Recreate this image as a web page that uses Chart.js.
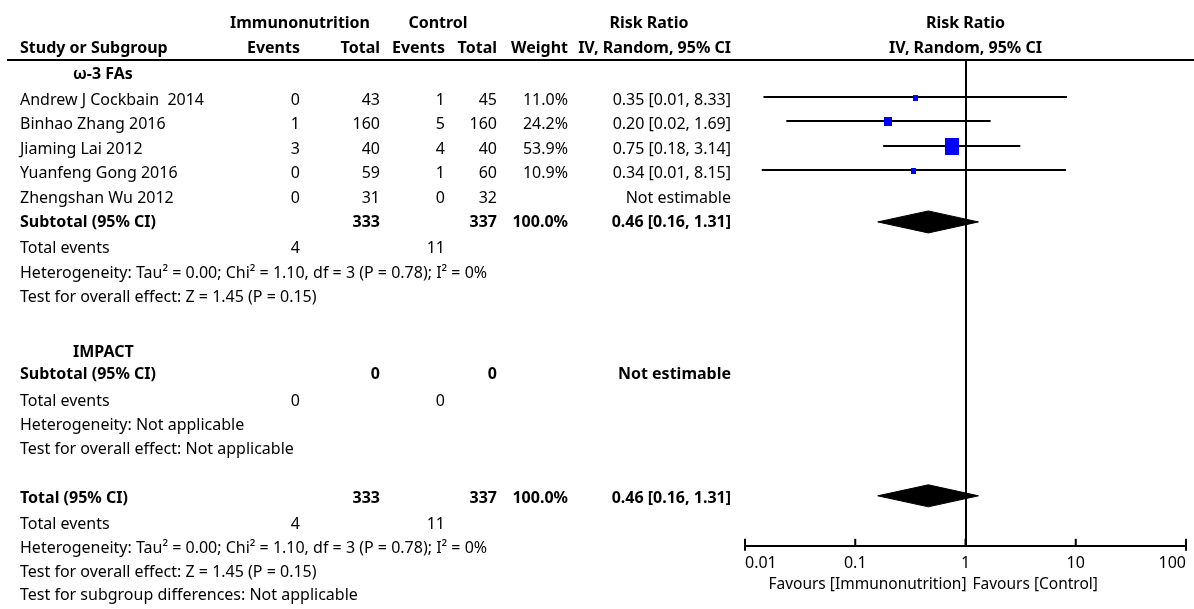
<!DOCTYPE html>
<html>
<head>
<meta charset="utf-8">
<script src="https://cdn.jsdelivr.net/npm/chart.js@4.4.1/dist/chart.umd.min.js"></script>
<style>
    body { margin: 0; background: #fff; }
    #wrap { position: relative; width: 1194px; height: 609px; overflow: hidden; font-family: 'Noto Sans', sans-serif; font-size: 16px; color: #000; }
    #forest { position: absolute; left: 0; top: 0; }
    .t { position: absolute; white-space: pre; line-height: 19px; }
    .b { font-weight: 700; }
    .fav { font-size: 15.5px; }
    .rule { position: absolute; left: 7px; top: 59px; width: 1187px; height: 2px; background: #000; }
</style>
</head>
<body>
<div id="wrap">
    <canvas id="forest" width="1194" height="609"></canvas>
    <div class="rule"></div>
</div>
<script>
// Forest plot - risk ratio, IV random

// Study data
const studies = ['Andrew J Cockbain  2014', 'Binhao Zhang 2016', 'Jiaming Lai 2012', 'Yuanfeng Gong 2016', 'Zhengshan Wu 2012'];
const immEvents = [0, 1, 3, 0, 0];
const immTotal = [43, 160, 40, 59, 31];
const ctlEvents = [1, 5, 4, 1, 0];
const ctlTotal = [45, 160, 40, 60, 32];
const weights = [11.0, 24.2, 53.9, 10.9, null];
const riskRatio = [0.35, 0.20, 0.75, 0.34, null];
const ciLower = [0.0147, 0.0237, 0.179, 0.0142, null];
const ciUpper = [8.33, 1.69, 3.14, 8.15, null];

// Pooled results
const pooledRR = 0.46;
const pooledLower = 0.16;
const pooledUpper = 1.31;
const pooledImmTotal = 333;
const pooledCtlTotal = 337;
const pooledImmEvents = 4;
const pooledCtlEvents = 11;
const impactImmTotal = 0;
const impactCtlTotal = 0;

// Axis
const axisTicks = [0.01, 0.1, 1, 10, 100];
const axisLabels = ['0.01', '0.1', '1', '10', '100'];

const hetText = 'Heterogeneity: Tau\u00b2 = 0.00; Chi\u00b2 = 1.10, df = 3 (P = 0.78); I\u00b2 = 0%';
const effectText = 'Test for overall effect: Z = 1.45 (P = 0.15)';

// Layout (page pixels, text centres)
const studyRowY = [99, 123, 148, 172, 197];
const subtotalY = 221;
const totalY = 497;
const diamondHalf = 11;

// column right edges
const COL = { left: 20, indent: 73, immEv: 300, immTot: 380, ctlEv: 445, ctlTot: 497, weight: 568, rr: 731 };

const wrap = document.getElementById('wrap');

function put(text, x, y, align, bold, cls) {
    const el = document.createElement('div');
    el.className = 't' + (bold ? ' b' : '') + (cls ? ' ' + cls : '');
    el.textContent = text;
    el.style.left = x + 'px';
    el.style.top = y + 'px';
    const tx = align === 'right' ? '-100%' : align === 'center' ? '-50%' : '0';
    el.style.transform = `translate(${tx}, -50%)`;
    wrap.appendChild(el);
}

const ciText = (r, l, u) => `${r.toFixed(2)} [${l.toFixed(2)}, ${u.toFixed(2)}]`;

// header
put('Immunonutrition', 300, 22, 'center', true);
put('Control', 438, 22, 'center', true);
put('Risk Ratio', 649, 22, 'center', true);
put('Study or Subgroup', COL.left, 47, 'left', true);
put('Events', COL.immEv, 47, 'right', true);
put('Total', COL.immTot, 47, 'right', true);
put('Events', COL.ctlEv, 47, 'right', true);
put('Total', COL.ctlTot, 47, 'right', true);
put('Weight', COL.weight, 47, 'right', true);
put('IV, Random, 95% CI', COL.rr, 47, 'right', true);

// subgroup 1
put('\u03c9-3 FAs', COL.indent, 73, 'left', true);
studies.forEach((name, i) => {
    const y = studyRowY[i];
    put(name, COL.left, y, 'left');
    put(String(immEvents[i]), COL.immEv, y, 'right');
    put(String(immTotal[i]), COL.immTot, y, 'right');
    put(String(ctlEvents[i]), COL.ctlEv, y, 'right');
    put(String(ctlTotal[i]), COL.ctlTot, y, 'right');
    if (weights[i] !== null) {
        put(weights[i].toFixed(1) + '%', COL.weight, y, 'right');
        put(ciText(riskRatio[i], ciLower[i], ciUpper[i]), COL.rr, y, 'right');
    } else {
        put('Not estimable', COL.rr, y, 'right');
    }
});
put('Subtotal (95% CI)', COL.left, subtotalY, 'left', true);
put(String(pooledImmTotal), COL.immTot, subtotalY, 'right', true);
put(String(pooledCtlTotal), COL.ctlTot, subtotalY, 'right', true);
put('100.0%', COL.weight, subtotalY, 'right', true);
put(ciText(pooledRR, pooledLower, pooledUpper), COL.rr, subtotalY, 'right', true);
put('Total events', COL.left, 247, 'left');
put(String(pooledImmEvents), COL.immEv, 247, 'right');
put(String(pooledCtlEvents), COL.ctlEv, 247, 'right');
put(hetText, COL.left, 272, 'left');
put(effectText, COL.left, 296, 'left');

// subgroup 2
put('IMPACT', COL.indent, 351, 'left', true);
put('Subtotal (95% CI)', COL.left, 373, 'left', true);
put(String(impactImmTotal), COL.immTot, 373, 'right', true);
put(String(impactCtlTotal), COL.ctlTot, 373, 'right', true);
put('Not estimable', COL.rr, 373, 'right', true);
put('Total events', COL.left, 400, 'left');
put('0', COL.immEv, 400, 'right');
put('0', COL.ctlEv, 400, 'right');
put('Heterogeneity: Not applicable', COL.left, 424, 'left');
put('Test for overall effect: Not applicable', COL.left, 448, 'left');

// overall
put('Total (95% CI)', COL.left, totalY, 'left', true);
put(String(pooledImmTotal), COL.immTot, totalY, 'right', true);
put(String(pooledCtlTotal), COL.ctlTot, totalY, 'right', true);
put('100.0%', COL.weight, totalY, 'right', true);
put(ciText(pooledRR, pooledLower, pooledUpper), COL.rr, totalY, 'right', true);
put('Total events', COL.left, 523, 'left');
put(String(pooledImmEvents), COL.immEv, 523, 'right');
put(String(pooledCtlEvents), COL.ctlEv, 523, 'right');
put(hetText, COL.left, 547, 'left');
put(effectText, COL.left, 571, 'left');
put('Test for subgroup differences: Not applicable', COL.left, 594, 'left');

// square markers sized by weight
function squareFor(w) {
    const side = 2.8 + 0.2 * w;
    const c = document.createElement('canvas');
    c.width = Math.round(side);
    c.height = Math.round(side * 1.22);
    const g = c.getContext('2d');
    g.fillStyle = '#0000ff';
    g.fillRect(0, 0, c.width, c.height);
    return c;
}

function diamond(y) {
    return [
        { x: pooledLower, y: y },
        { x: pooledRR, y: y - diamondHalf },
        { x: pooledUpper, y: y },
        { x: pooledRR, y: y + diamondHalf },
        { x: pooledLower, y: y }
    ];
}

const markY = studyRowY.map(y => y - 2);
const estimable = riskRatio.map((r, i) => i).filter(i => riskRatio[i] !== null);

const datasets = [];
datasets.push({
    data: estimable.map(i => ({ x: riskRatio[i], y: markY[i] + 1 })),
    pointStyle: estimable.map(i => squareFor(weights[i])),
    pointRadius: 6,
    order: 0
});
estimable.forEach(i => {
    datasets.push({
        data: [{ x: ciLower[i], y: markY[i] }, { x: ciUpper[i], y: markY[i] }],
        showLine: true,
        borderColor: '#000',
        borderWidth: 2,
        pointRadius: 0,
        order: 1
    });
});
[subtotalY + 1, totalY - 1].forEach(y => {
    datasets.push({
        data: diamond(y),
        showLine: true,
        fill: 'shape',
        backgroundColor: '#000',
        borderColor: '#000',
        borderWidth: 1,
        pointRadius: 0,
        tension: 0,
        order: 1
    });
});

// small upward tick marks on the axis
const tickMarks = {
    id: 'tickMarks',
    afterDraw(chart) {
        const x = chart.scales.x;
        const c = chart.ctx;
        const bottom = chart.chartArea.bottom;
        c.save();
        c.strokeStyle = '#000';
        c.lineWidth = 2;
        x.ticks.forEach((t, i) => {
            const px = x.getPixelForValue(t.value);
            const end = (i === 0 || i === x.ticks.length - 1);
            c.beginPath();
            c.moveTo(px, bottom - 7);
            c.lineTo(px, bottom + (end ? 5 : 0));
            c.stroke();
        });
        c.restore();
    }
};

const chart = new Chart(document.getElementById('forest'), {
    type: 'scatter',
    data: { datasets },
    options: {
        responsive: false,
        animation: false,
        layout: { padding: { left: 745, right: 1, top: 60, bottom: 28 } },
        plugins: { legend: { display: false }, tooltip: { enabled: false } },
        scales: {
            x: {
                type: 'logarithmic',
                min: 0.01,
                max: 100,
                afterBuildTicks: scale => { scale.ticks = axisTicks.map(v => ({ value: v })); },
                ticks: {
                    align: 'inner',
                    autoSkip: false,
                    maxRotation: 0,
                    padding: 8,
                    color: '#000',
                    font: { family: 'Noto Sans', size: 16 },
                    callback: (v, i) => axisLabels[i]
                },
                grid: {
                    drawTicks: false,
                    lineWidth: 2,
                    color: ctx => (ctx.tick && ctx.tick.value === 1) ? '#000' : 'rgba(0,0,0,0)'
                },
                border: { display: true, color: '#000', width: 2 }
            },
            y: { type: 'linear', min: 60, max: 546, reverse: true, display: false }
        }
    },
    plugins: [tickMarks]
});

// plot headers and favours labels, placed from the x scale
const nullX = chart.scales.x.getPixelForValue(1);
put('Risk Ratio', nullX, 22, 'center', true);
put('IV, Random, 95% CI', nullX, 47, 'center', true);
put('Favours [Immunonutrition]', nullX + 1, 583, 'right', false, 'fav');
put('Favours [Control]', nullX + 7, 583, 'left', false, 'fav');
</script>
</body>
</html>
